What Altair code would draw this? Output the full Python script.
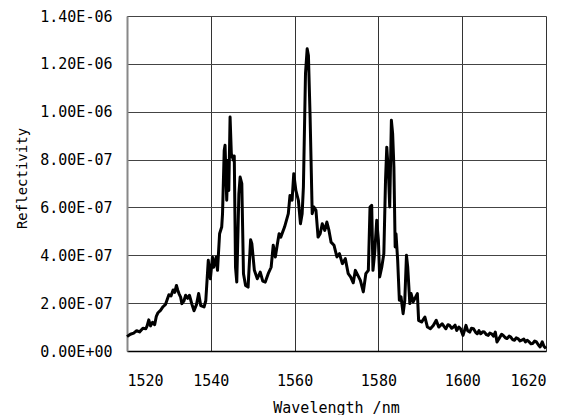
import altair as alt
import pandas as pd

wavelength_nm = [
    1520.0, 1520.8, 1521.6, 1522.3, 1523.0, 1523.8, 1524.5, 1524.8, 1525.2, 1525.6, 1526.1, 1526.6,
    1527.0, 1527.4, 1528.0, 1528.6, 1529.2, 1529.6, 1530.0, 1530.5, 1531.0, 1531.4, 1531.8, 1532.1,
    1532.4, 1532.8, 1533.1, 1533.6, 1534.0, 1534.5, 1534.9, 1535.5, 1536.0, 1536.6, 1537.1, 1537.6,
    1538.4, 1538.8, 1539.4, 1539.9, 1540.4, 1540.7, 1541.3, 1541.6, 1542.1, 1542.6, 1542.8, 1543.2,
    1543.4, 1543.8, 1544.1, 1544.3, 1544.6, 1544.9, 1545.4, 1545.6, 1545.9, 1546.2, 1546.7, 1547.0,
    1547.4, 1547.8, 1548.3, 1548.9, 1549.5, 1549.8, 1550.4, 1551.1, 1551.8, 1552.4, 1553.0, 1553.7,
    1554.4, 1554.9, 1555.4, 1555.9, 1556.3, 1556.7, 1557.6, 1558.5, 1558.9, 1559.4, 1559.8, 1560.3,
    1560.9, 1561.4, 1561.8, 1562.1, 1562.6, 1563.0, 1563.3, 1563.7, 1564.2, 1564.6, 1565.1, 1565.6,
    1566.1, 1566.6, 1567.2, 1567.7, 1568.2, 1568.7, 1569.4, 1570.1, 1570.7, 1571.4, 1572.1, 1572.8,
    1573.4, 1574.0, 1574.5, 1575.1, 1575.7, 1576.4, 1577.0, 1577.6, 1578.0, 1578.4, 1578.7, 1579.1,
    1579.6, 1580.0, 1580.3, 1580.8, 1581.3, 1581.7, 1582.0, 1582.4, 1582.7, 1583.1, 1583.4, 1583.7,
    1584.0, 1584.2, 1584.6, 1585.0, 1585.4, 1585.9, 1586.3, 1586.7, 1587.0, 1587.5, 1587.8, 1588.3,
    1588.9, 1589.3, 1589.6, 1590.3, 1591.1, 1591.7, 1592.4, 1593.1, 1593.8, 1594.4, 1595.2, 1595.7,
    1596.1, 1596.6, 1597.0, 1597.5, 1597.9, 1598.3, 1598.7, 1599.2, 1599.6, 1600.2, 1600.9, 1601.3,
    1601.8, 1602.2, 1602.7, 1603.2, 1603.6, 1604.0, 1604.4, 1604.9, 1605.3, 1605.8, 1606.2, 1606.6,
    1607.0, 1607.5, 1607.9, 1608.3, 1609.0, 1609.4, 1609.8, 1610.3, 1610.7, 1611.2, 1611.6, 1612.0,
    1612.5, 1612.9, 1613.3, 1613.8, 1614.2, 1614.7, 1615.1, 1615.5, 1616.0, 1616.4, 1616.8, 1617.3,
    1617.7, 1618.2, 1618.6, 1619.1, 1619.5, 1620.0,
]

reflectivity = [
    6.0e-8, 7.0e-8, 7.5e-8, 8.5e-8, 8.0e-8, 9.5e-8, 9.3e-8, 1.05e-7, 1.3e-7, 1.05e-7, 1.2e-7, 1.1e-7,
    1.45e-7, 1.6e-7, 1.7e-7, 1.85e-7, 1.95e-7, 2.15e-7, 2.35e-7, 2.3e-7, 2.55e-7, 2.45e-7, 2.74e-7, 2.55e-7,
    2.4e-7, 2.25e-7, 1.98e-7, 2.1e-7, 2.33e-7, 2.2e-7, 2.33e-7, 1.95e-7, 1.68e-7, 1.95e-7, 2.4e-7, 1.9e-7,
    1.84e-7, 2.1e-7, 3.79e-7, 3.02e-7, 3.93e-7, 3.5e-7, 3.93e-7, 3.37e-7, 4.9e-7, 5.18e-7, 5.74e-7, 8.38e-7,
    8.6e-7, 6.3e-7, 7.97e-7, 6.71e-7, 9.78e-7, 8.25e-7, 7.97e-7, 8.15e-7, 3.5e-7, 2.88e-7, 6.57e-7, 7.27e-7,
    6.99e-7, 3.23e-7, 2.74e-7, 2.67e-7, 4.65e-7, 4.48e-7, 3.37e-7, 3.02e-7, 3.3e-7, 2.92e-7, 2.88e-7, 3.23e-7,
    3.5e-7, 4.42e-7, 3.93e-7, 4.48e-7, 4.9e-7, 4.76e-7, 5.18e-7, 5.74e-7, 6.5e-7, 6.3e-7, 7.41e-7, 6.71e-7,
    6.3e-7, 5.32e-7, 5.74e-7, 6.85e-7, 11.59e-7, 12.63e-7, 12.35e-7, 9.78e-7, 5.74e-7, 6.02e-7, 5.88e-7, 4.76e-7,
    4.9e-7, 5.32e-7, 5.04e-7, 5.39e-7, 5.04e-7, 4.55e-7, 4.42e-7, 3.93e-7, 4.07e-7, 3.65e-7, 3.86e-7, 3.23e-7,
    3.09e-7, 2.85e-7, 3.37e-7, 3.16e-7, 2.95e-7, 2.47e-7, 3.23e-7, 3.37e-7, 6.02e-7, 6.09e-7, 3.37e-7, 4.07e-7,
    5.46e-7, 4.62e-7, 3.09e-7, 3.5e-7, 4.07e-7, 7.13e-7, 8.52e-7, 7.41e-7, 6.02e-7, 9.64e-7, 9.08e-7, 7.69e-7,
    4.35e-7, 4.9e-7, 3.79e-7, 2.12e-7, 2.26e-7, 1.56e-7, 2.12e-7, 4.0e-7, 3.5e-7, 1.98e-7, 2.4e-7, 2.05e-7,
    2.26e-7, 2.4e-7, 1.28e-7, 1.21e-7, 1.42e-7, 1.0e-7, 0.93e-7, 1.07e-7, 1.28e-7, 1.0e-7, 1.14e-7, 1.02e-7,
    0.93e-7, 1.1e-7, 1.07e-7, 0.95e-7, 1.0e-7, 1.08e-7, 0.86e-7, 1.0e-7, 0.93e-7, 0.65e-7, 1.07e-7, 0.85e-7,
    0.79e-7, 0.95e-7, 0.93e-7, 0.78e-7, 0.72e-7, 0.85e-7, 0.72e-7, 0.8e-7, 0.79e-7, 0.68e-7, 0.65e-7, 0.75e-7,
    0.72e-7, 0.62e-7, 0.79e-7, 0.38e-7, 0.58e-7, 0.7e-7, 0.65e-7, 0.55e-7, 0.52e-7, 0.62e-7, 0.58e-7, 0.48e-7,
    0.45e-7, 0.55e-7, 0.52e-7, 0.42e-7, 0.45e-7, 0.5e-7, 0.38e-7, 0.45e-7, 0.38e-7, 0.3e-7, 0.31e-7, 0.42e-7,
    0.38e-7, 0.25e-7, 0.17e-7, 0.38e-7, 0.2e-7, 0.1e-7,
]

x_ticks = [1520, 1540, 1560, 1580, 1600, 1620]
y_ticks = [0, 2e-7, 4e-7, 6e-7, 8e-7, 1.0e-6, 1.2e-6, 1.4e-6]

df = pd.DataFrame({"wavelength": wavelength_nm, "reflectivity": reflectivity})

FONT = "DejaVu Sans Mono"

y_label_expr = (
    "datum.value == 0 ? '0.00E+00' : (datum.value >= 9.99e-7 ? "
    "format(datum.value * 1e6, '.2f') + 'E-06' : format(datum.value * 1e7, '.2f') + 'E-07')"
)

chart = (
    alt.Chart(df)
    .mark_line(color="black", strokeWidth=3, strokeJoin="round")
    .encode(
        x=alt.X(
            "wavelength:Q",
            scale=alt.Scale(domain=[1520, 1620], nice=False, zero=False),
            axis=alt.Axis(
                values=x_ticks,
                title="Wavelength /nm",
                grid=True,
                gridColor="#333333",
                gridWidth=1,
                ticks=False,
                tickSize=0,
                domainColor="black",
                domainWidth=1.5,
                labelFont=FONT,
                labelFontSize=15,
                labelColor="black",
                labelPadding=22,
                titleFont=FONT,
                titleFontSize=15,
                titleFontWeight="normal",
                titleColor="black",
                titleX=209,
                titleY=56,
                titleBaseline="middle",
                titleAlign="center",
                format="d",
            ),
        ),
        y=alt.Y(
            "reflectivity:Q",
            scale=alt.Scale(domain=[0, 1.4e-6], nice=False),
            axis=alt.Axis(
                values=y_ticks,
                title="Reflectivity",
                grid=True,
                gridColor="#444444",
                gridWidth=1,
                ticks=False,
                tickSize=0,
                domainColor="#888888",
                domainWidth=2,
                labelFont=FONT,
                labelFontSize=15,
                labelColor="black",
                labelPadding=15,
                labelExpr=y_label_expr,
                titleFont=FONT,
                titleFontSize=14,
                titleFontWeight="normal",
                titleColor="black",
                titleAngle=270,
                titleX=-105,
                titleY=162,
                titleBaseline="middle",
                titleAlign="center",
            ),
        ),
    )
    .properties(
        width=419,
        height=335,
        autosize=alt.AutoSizeParams(type="none"),
        padding={"left": 119, "top": 8, "right": 22, "bottom": 64},
    )
    .configure_view(stroke="black", strokeWidth=1.5)
    .configure(background="white")
)

chart.save("out.html", embed_options={"renderer": "svg", "actions": False})
